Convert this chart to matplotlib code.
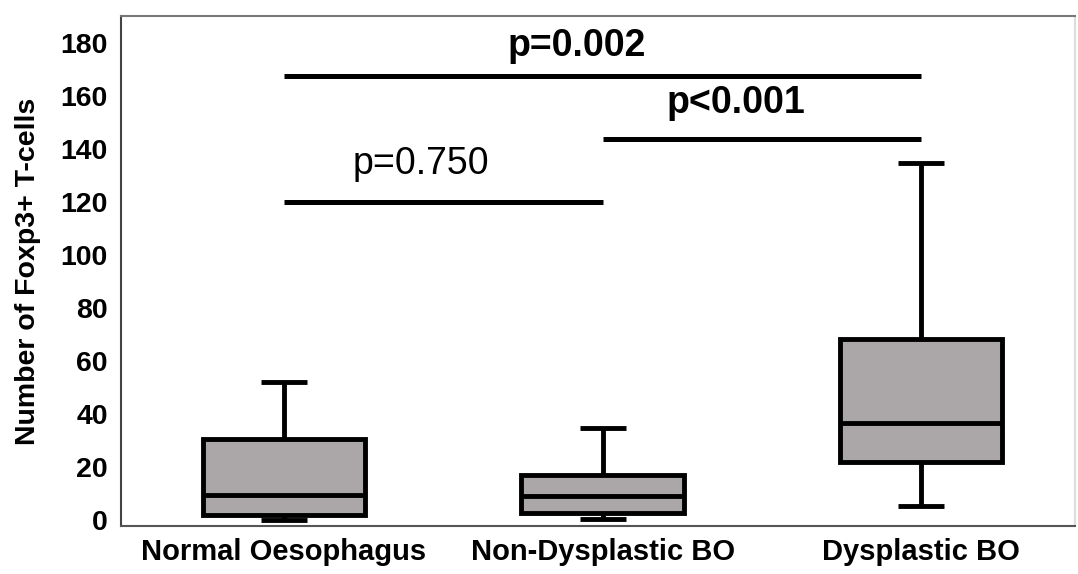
import matplotlib.pyplot as plt
import numpy as np

plt.rcParams['font.family'] = ['Liberation Sans', 'DejaVu Sans']

# grupos y valores
groups = ['Normal Oesophagus', 'Non-Dysplastic BO', 'Dysplastic BO']
whislo = [0.0, 0.4, 5.3]
q1 = [1.9, 2.6, 21.9]
med = [9.4, 9.1, 36.6]
q3 = [30.6, 17.0, 68.3]
whishi = [52.1, 34.7, 134.7]

# barras de significacion
sig_pairs = [(0, 1), (1, 2), (0, 2)]
sig_heights = [120.0, 143.8, 167.5]
sig_labels = ['p=0.750', 'p<0.001', 'p=0.002']

yticks = [0, 20, 40, 60, 80, 100, 120, 140, 160, 180]

fig = plt.figure(figsize=(10.78, 5.74), dpi=100)
ax = fig.add_axes([0.1122, 0.0836, 0.8850, 0.8885])

stats = []
for i, g in enumerate(groups):
    stats.append(dict(label=g, whislo=whislo[i], q1=q1[i], med=med[i],
                      q3=q3[i], whishi=whishi[i], fliers=[]))

lw = 3.5
ax.bxp(stats, positions=range(len(groups)), widths=0.51, capwidths=0.144,
       patch_artist=True, showfliers=False,
       boxprops=dict(facecolor='#aba7a8', edgecolor='black', linewidth=lw),
       medianprops=dict(color='black', linewidth=lw, solid_capstyle='butt'),
       whiskerprops=dict(color='black', linewidth=lw, solid_capstyle='butt'),
       capprops=dict(color='black', linewidth=lw, solid_capstyle='butt'))

for (a, b), h in zip(sig_pairs, sig_heights):
    ax.plot([a, b], [h, h], color='black', linewidth=3.6, solid_capstyle='butt')

# textos de p
ax.text(0.43, 134.5, sig_labels[0], ha='center', va='center', fontsize=27)
ax.text(1.42, 157.5, sig_labels[1], ha='center', va='center', fontsize=27,
        fontweight='bold')
ax.text(0.92, 179.0, sig_labels[2], ha='center', va='center', fontsize=27,
        fontweight='bold')

ax.set_xlim(-0.512, 2.483)
ax.set_ylim(-2.3, 190.2)
ax.set_yticks(yticks)
ax.set_xticks(range(len(groups)))
ax.set_xticklabels(groups, fontsize=21, fontweight='bold')
ax.tick_params(axis='y', length=0, pad=9.5, labelsize=20.5)
ax.tick_params(axis='x', length=0, pad=8.5)
for t in ax.get_yticklabels():
    t.set_fontweight('bold')

ax.set_ylabel('Number of Foxp3+ T-cells', fontsize=20.5, fontweight='bold')
ax.yaxis.set_label_coords(-0.084, 0.5)

ax.spines['left'].set_color('#444444')
ax.spines['bottom'].set_color('#555555')
ax.spines['top'].set_color('#777777')
ax.spines['right'].set_color('#dddddd')
for s in ax.spines.values():
    s.set_linewidth(1.5)

fig.savefig('out.png', dpi=100)
